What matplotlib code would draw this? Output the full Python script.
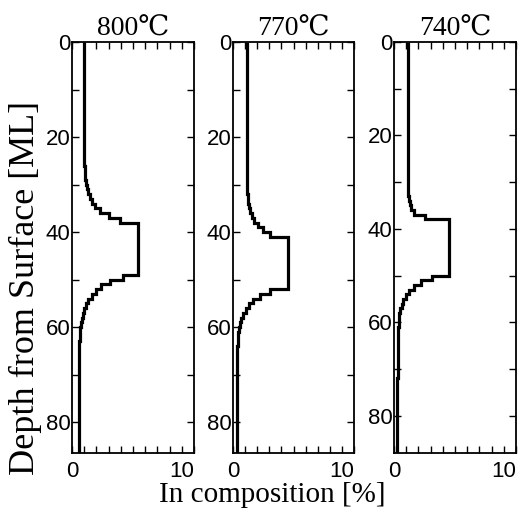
import matplotlib
matplotlib.use("Agg")
import matplotlib.pyplot as plt
from matplotlib.ticker import MultipleLocator

# depth profiles of In composition, one level per step (depth in ML)
titles = ["800℃", "770℃", "740℃"]
x_labels = [(0, "0"), (10, "10")]

edges_800 = [0, 25, 26, 27, 28, 29, 30, 31, 32, 33, 34, 35, 36, 37, 38,
             49, 50, 51, 52, 53, 54, 55, 56, 57, 58, 59, 60, 61, 62, 63, 72, 87]
comp_800 = [1.0, 1.02, 1.03, 1.05, 1.08, 1.12, 1.2, 1.3, 1.45, 1.65, 1.9, 2.3, 3.0, 3.9,
            5.4,
            4.2, 3.1, 2.4, 2.0, 1.6, 1.35, 1.15, 1.0, 0.9, 0.8, 0.72, 0.67, 0.64, 0.62,
            0.6, 0.57]

edges_770 = [0, 30, 31, 32, 33, 34, 35, 36, 37, 38, 39, 40, 41,
             52, 53, 54, 55, 56, 57, 58, 59, 60, 61, 62, 63, 64, 75, 87]
comp_770 = [1.15, 1.16, 1.18, 1.2, 1.25, 1.32, 1.42, 1.55, 1.75, 2.1, 2.5, 3.05,
            4.55,
            3.05, 2.2, 1.65, 1.3, 1.05, 0.85, 0.7, 0.58, 0.5, 0.45, 0.42, 0.4,
            0.35, 0.3]

edges_740 = [0, 32, 33, 34, 35, 36, 37, 38,
             50, 51, 52, 53, 54, 55, 56, 57, 58, 59, 60, 61, 72, 89]
comp_740 = [1.15, 1.17, 1.2, 1.28, 1.4, 1.6, 2.5,
            4.5,
            3.1, 2.2, 1.6, 1.2, 0.95, 0.75, 0.62, 0.52, 0.45, 0.4, 0.37,
            0.33, 0.28]

depth_max = [86.5, 86.5, 88.0]

serif = ["Liberation Serif", "DejaVu Serif", "Noto Sans CJK JP"]
sans = ["Liberation Sans", "DejaVu Sans"]

fig = plt.figure(figsize=(5.28, 5.17), dpi=100)
lefts = [72, 233, 394]
widths = [122, 121, 122]
profiles = [(edges_800, comp_800), (edges_770, comp_770), (edges_740, comp_740)]

for i in range(3):
    ax = fig.add_axes([lefts[i] / 528, 1 - 453 / 517, widths[i] / 528, 411 / 517])
    edges, comp = profiles[i]
    ax.stairs(comp, edges, orientation="horizontal", baseline=None,
              color="black", linewidth=2.3)
    ax.set_xlim(0, 10)
    ax.set_ylim(depth_max[i], 0)
    ax.xaxis.set_major_locator(MultipleLocator(10))
    ax.xaxis.set_minor_locator(MultipleLocator(1))
    ax.yaxis.set_major_locator(MultipleLocator(20))
    ax.yaxis.set_minor_locator(MultipleLocator(10))
    ax.tick_params(which="both", direction="in", top=True, right=True,
                   width=1.0, length=5, labelsize=16, labelbottom=False)
    ax.tick_params(axis="y", pad=1)
    for lab in ax.get_yticklabels():
        lab.set_family(sans)
    # x tick labels: "0" centred on its tick, "10" ending at the right edge
    for xv, txt in x_labels:
        ax.text(xv, -0.02, txt, transform=ax.get_xaxis_transform(),
                ha="center" if xv == 0 else "right", va="top",
                family=sans, fontsize=16)
    for sp in ax.spines.values():
        sp.set_linewidth(1.3)
    ax.set_title(titles[i], family=serif, fontsize=20, pad=4)

fig.text(272 / 528, 1 - 495 / 517, "In composition [%]", family=serif,
         fontsize=21, ha="center", va="center")
fig.text(25 / 528, 1 - 288 / 517, "Depth from Surface [ML]", family=serif,
         fontsize=26, ha="center", va="center", rotation=90)

plt.savefig("out.png", dpi=100, facecolor="white")
